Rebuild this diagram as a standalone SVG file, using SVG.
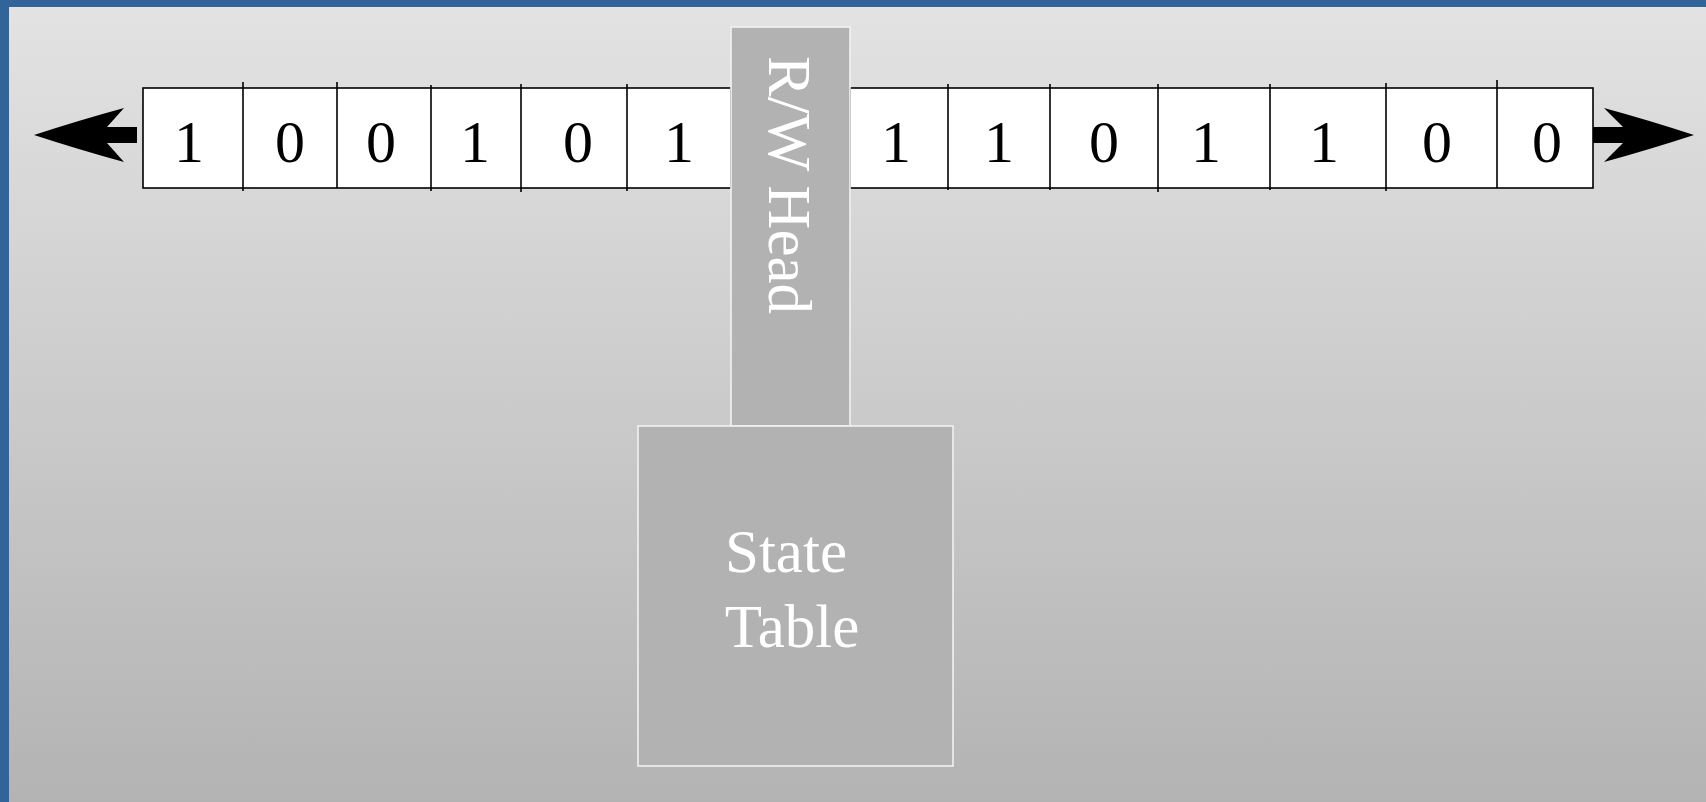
<svg xmlns="http://www.w3.org/2000/svg" width="1706" height="802" viewBox="0 0 1706 802">
  <defs>
    <linearGradient id="bg" x1="0" y1="0" x2="0" y2="1">
      <stop offset="0" stop-color="#e3e3e3"/>
      <stop offset="1" stop-color="#b3b3b3"/>
    </linearGradient>
    <style>
      .cell { fill: #ffffff; stroke: #000000; stroke-width: 1.6; }
      .div { stroke: #000000; stroke-width: 1.6; }
      .digit { font-family: "Liberation Serif", "Times New Roman", serif; font-size: 60px; fill: #000000; text-anchor: middle; }
      .box { fill: #b2b2b2; stroke: #f2f2f2; stroke-width: 1.6; }
      .label { font-family: "Liberation Serif", "Times New Roman", serif; font-size: 61px; fill: #ffffff; }
      .arrow { fill: #000000; }
    </style>
  </defs>

  <!-- backdrop and frame edges -->
  <rect x="0" y="0" width="1706" height="802" fill="url(#bg)"/>
  <rect x="0" y="0" width="1706" height="7" fill="#31659a"/>
  <rect x="0" y="0" width="9" height="802" fill="#31659a"/>

  <!-- tape end arrows -->
  <g id="connectors">
    <path class="arrow" d="M34,135 Q80,120 124,108 L107,127 L137,127 L137,143 L107,143 L124,162 Q80,150 34,135 Z"/>
    <path class="arrow" d="M1694,135 Q1648,120 1604,108 L1623,127 L1593,127 L1593,143 L1623,143 L1604,162 Q1648,150 1694,135 Z"/>
  </g>

  <!-- tape, left of the head -->
  <g id="tape-left">
    <rect class="cell" x="143" y="88" width="588" height="100"/>
    <line class="div" x1="243" y1="82" x2="243" y2="191"/>
    <line class="div" x1="337" y1="82" x2="337" y2="188"/>
    <line class="div" x1="431" y1="85" x2="431" y2="191"/>
    <line class="div" x1="521" y1="84" x2="521" y2="192"/>
    <line class="div" x1="627" y1="84" x2="627" y2="191"/>
    <text class="digit" x="189" y="162">1</text>
    <text class="digit" x="290" y="162">0</text>
    <text class="digit" x="381" y="162">0</text>
    <text class="digit" x="475" y="162">1</text>
    <text class="digit" x="578" y="162">0</text>
    <text class="digit" x="679" y="162">1</text>
  </g>

  <!-- tape, right of the head -->
  <g id="tape-right">
    <rect class="cell" x="850" y="88" width="743" height="100"/>
    <line class="div" x1="948" y1="84" x2="948" y2="190"/>
    <line class="div" x1="1050" y1="84" x2="1050" y2="190"/>
    <line class="div" x1="1158" y1="84" x2="1158" y2="192"/>
    <line class="div" x1="1270" y1="84" x2="1270" y2="190"/>
    <line class="div" x1="1386" y1="83" x2="1386" y2="191"/>
    <line class="div" x1="1497" y1="80" x2="1497" y2="188"/>
    <text class="digit" x="896" y="162">1</text>
    <text class="digit" x="999" y="162">1</text>
    <text class="digit" x="1104" y="162">0</text>
    <text class="digit" x="1206" y="162">1</text>
    <text class="digit" x="1324" y="162">1</text>
    <text class="digit" x="1437" y="162">0</text>
    <text class="digit" x="1547" y="162">0</text>
  </g>

  <!-- read/write head -->
  <g id="rw-head">
    <rect class="box" x="731" y="27" width="119" height="399"/>
    <text class="label" transform="translate(769,56) rotate(90)">R/W Head</text>
  </g>

  <!-- state table -->
  <g id="state-table">
    <rect class="box" x="638" y="426" width="315" height="340"/>
    <text class="label" x="786" y="572" text-anchor="middle">State</text>
    <text class="label" x="792" y="647" text-anchor="middle">Table</text>
  </g>
</svg>
